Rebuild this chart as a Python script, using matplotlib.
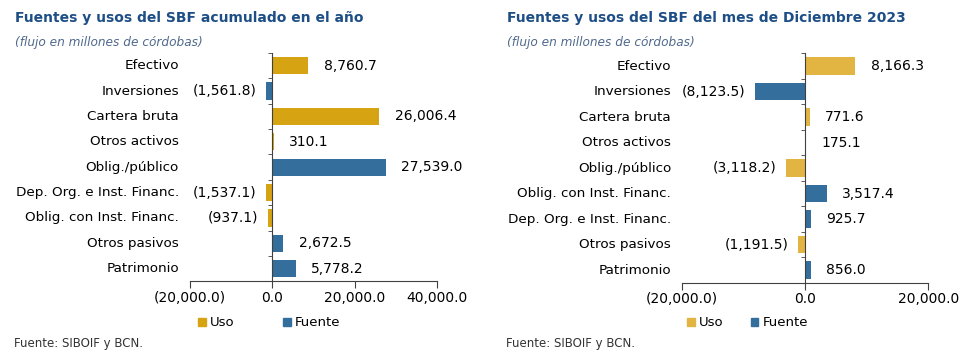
import numpy as np
import matplotlib.pyplot as plt
from matplotlib.patches import Patch
from matplotlib.ticker import FuncFormatter, FixedLocator

# acumulado en el año
cats_a = ["Efectivo", "Inversiones", "Cartera bruta", "Otros activos", "Oblig./público",
          "Dep. Org. e Inst. Financ.", "Oblig. con Inst. Financ.", "Otros pasivos", "Patrimonio"]
vals_a = [8760.7, -1561.8, 26006.4, 310.1, 27539.0, -1537.1, -937.1, 2672.5, 5778.2]
tipo_a = ["Uso", "Fuente", "Uso", "Uso", "Fuente", "Uso", "Uso", "Fuente", "Fuente"]

# mes de diciembre 2023
cats_m = ["Efectivo", "Inversiones", "Cartera bruta", "Otros activos", "Oblig./público",
          "Oblig. con Inst. Financ.", "Dep. Org. e Inst. Financ.", "Otros pasivos", "Patrimonio"]
vals_m = [8166.3, -8123.5, 771.6, 175.1, -3118.2, 3517.4, 925.7, -1191.5, 856.0]
tipo_m = ["Uso", "Fuente", "Uso", "Uso", "Uso", "Fuente", "Fuente", "Uso", "Fuente"]

blue = "#336E9D"
title_col = "#1D4E86"
sub_col = "#50698C"

def fmt(v):
    s = "{:,.1f}".format(abs(v))
    return "(" + s + ")" if v < 0 else s

fig = plt.figure(figsize=(9.69, 3.53), dpi=100)

def panel(rect, cats, vals, tipo, gold, xlim, xticks, title, tx, leg_x, leg_gap):
    ax = fig.add_axes(rect)
    n = len(cats)
    y = np.arange(n)
    cols = [gold if t == "Uso" else blue for t in tipo]
    ax.barh(y, vals, height=0.68, color=cols)
    ax.set_ylim(n - 0.5, -0.5)
    ax.set_xlim(xlim)
    ax.xaxis.set_major_locator(FixedLocator(xticks))
    ax.xaxis.set_major_formatter(FuncFormatter(lambda v, p: fmt(v)))
    ax.tick_params(axis="x", length=5, width=0.8, color="#404040", labelsize=10, pad=2)
    for s in ["top", "right"]:
        ax.spines[s].set_visible(False)
    ax.spines["left"].set_position(("data", 0))
    ax.spines["left"].set_color("#404040")
    ax.spines["bottom"].set_color("#404040")
    ax.set_yticks(y)
    ax.set_yticklabels([])
    ax.set_yticks(np.arange(n + 1) - 0.5, minor=True)
    ax.tick_params(axis="y", which="major", length=0)
    ax.tick_params(axis="y", which="minor", length=3, color="#404040")
    for i, c in enumerate(cats):
        ax.text(-0.045, i, c, transform=ax.get_yaxis_transform(), ha="right", va="center",
                fontsize=9.7, color="black")
    for i, v in enumerate(vals):
        if v >= 0:
            ax.annotate(fmt(v), (v, i), xytext=(11, 0), textcoords="offset points",
                        ha="left", va="center", fontsize=10)
        else:
            ax.annotate(fmt(v), (v, i), xytext=(-7, 0), textcoords="offset points",
                        ha="right", va="center", fontsize=10)
    fig.text(tx, 0.948, title, fontsize=10, fontweight="bold", color=title_col, va="center")
    fig.text(tx, 0.88, "(flujo en millones de córdobas)", fontsize=8.7, style="italic",
             color=sub_col, va="center")
    fig.text(tx - 0.001, 0.028, "Fuente: SIBOIF y BCN.", fontsize=8.5, color="#333333", va="center")
    handles = [Patch(color=gold), Patch(color=blue)]
    fig.legend(handles, ["Uso", "Fuente"], loc="center left", bbox_to_anchor=(leg_x, 0.085),
               ncol=2, frameon=False, fontsize=9.5, handlelength=0.6, handleheight=0.6,
               handletextpad=0.3, columnspacing=leg_gap, borderaxespad=0, borderpad=0)
    return ax

panel([0.196, 0.203, 0.255, 0.647], cats_a, vals_a, tipo_a, "#D6A313",
      (-20000, 40000), [-20000, 0, 20000, 40000],
      "Fuentes y usos del SBF acumulado en el año", 0.015, 0.2043, 3.67)
panel([0.704, 0.199, 0.254, 0.650], cats_m, vals_m, tipo_m, "#E2B542",
      (-20000, 20000), [-20000, 0, 20000],
      "Fuentes y usos del SBF del mes de Diciembre 2023", 0.523, 0.709, 2.05)

fig.savefig("out.png", dpi=100)
